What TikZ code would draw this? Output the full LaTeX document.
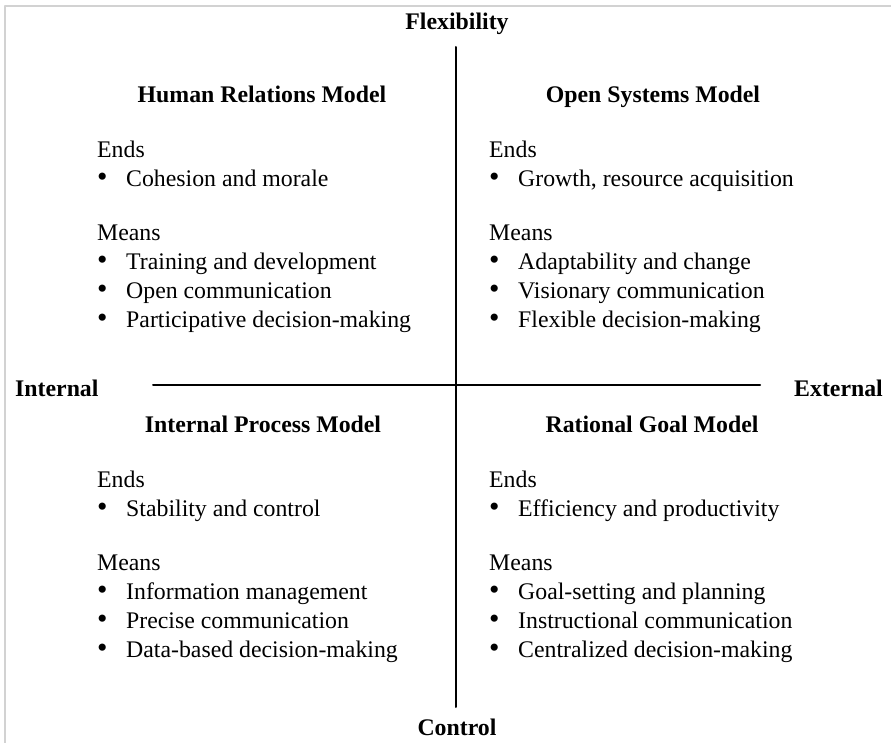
\documentclass[tikz,border=0pt]{standalone}
\usepackage{fontspec}
\setmainfont{Liberation Serif}
\begin{document}
\begin{tikzpicture}[x=1pt, y=-1pt, line join=round, line cap=round,
		font=\fontsize{23.8}{29}\selectfont,
		axis/.style={line width=2pt},
		axislabel/.style={font=\fontsize{23.8}{29}\selectfont\bfseries, inner sep=0pt, anchor=base},
		modeltitle/.style={font=\fontsize{23.8}{29}\selectfont\bfseries, inner sep=0pt, anchor=base},
		modeltext/.style={align=left, inner sep=0pt, anchor=base west}]
			\def\itm#1{\makebox[29pt][l]{\scalebox{1.25}{\textbullet}}#1}
			\def\modelquad#1#2#3#4#5#6#7#8#9{
				\node[modeltitle] (#1) at (#2,#4) {#5};
				\node[modeltext] (#1-text) at (#3,{#4+225}) {Ends\\\itm{#6}\\[25.4pt]Means\\\itm{#7}\\\itm{#8}\\\itm{#9}};}
			\useasboundingbox (0,0) rectangle (891,743);
			\draw[gray!35, line width=1.5pt] (5,743) |- (891,6);
			\node[axislabel] (flex) at (457,29.3) {Flexibility};
			\node[axislabel] (ctrl) at (457,735) {Control};
			\node[axislabel, anchor=base west] (int) at (15,396.7) {Internal};
			\node[axislabel, anchor=base east] (ext) at (883,396.7) {External};
			\coordinate (n) at (456,47); \coordinate (s) at (456,707);
			\coordinate (w) at (153,385); \coordinate (e) at (760,385);
			\draw[axis] (n) -- (s);
			\draw[axis] (w) -- (e);
			\modelquad{hr}{262}{97}{102.7}{Human Relations Model}{Cohesion and morale}{Training and development}{Open communication}{Participative decision-making}
			\modelquad{os}{653}{489}{102.7}{Open Systems Model}{Growth, resource acquisition}{Adaptability and change}{Visionary communication}{Flexible decision-making}
			\modelquad{ip}{263}{97}{432.7}{Internal Process Model}{Stability and control}{Information management}{Precise communication}{Data-based decision-making}
			\modelquad{rg}{652}{489}{432.7}{Rational Goal Model}{Efficiency and productivity}{Goal-setting and planning}{Instructional communication}{Centralized decision-making}
		\end{tikzpicture}
\end{document}
